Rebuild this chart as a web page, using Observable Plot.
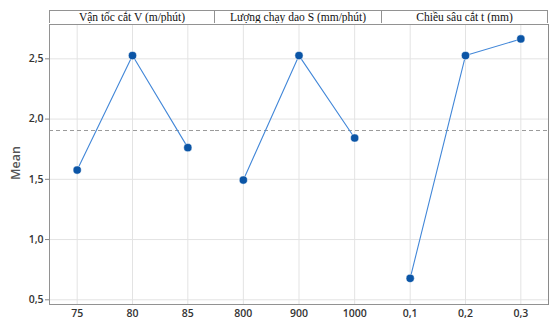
<!DOCTYPE html>
<html><head><meta charset="utf-8">
<script src="https://cdn.jsdelivr.net/npm/d3@7"></script>
<script src="https://cdn.jsdelivr.net/npm/@observablehq/plot@0.6"></script>
<style>
body{margin:0;background:#fff;}
#wrap{position:relative;width:549px;height:320px;padding-top:10px;box-sizing:border-box;display:flex;}
.col{display:flex;flex-direction:column;}
.strip{height:13px;box-sizing:border-box;border:1px solid #929292;border-bottom:none;background:#fff;font-family:"Liberation Serif",serif;font-size:11.5px;line-height:12px;text-align:center;color:#111;white-space:nowrap;overflow:hidden;}
#ylab{position:absolute;left:15px;top:163px;transform:translate(-50%,-50%) rotate(-90deg);font-family:"Open Sans",sans-serif;font-weight:600;font-size:12.5px;color:#555;}
svg{display:block;}
</style></head>
<body>
<div id="wrap"><div id="ylab">Mean</div></div>
<script>
const titles = ["Vận tốc cắt V (m/phút)", "Lượng chạy dao S (mm/phút)", "Chiều sâu cắt t (mm)"];
const vLevels = [75, 80, 85];
const vMeans = [1.577, 2.527, 1.763];
const sLevels = [800, 900, 1000];
const sMeans = [1.494, 2.527, 1.843];
const tLevels = [0.1, 0.2, 0.3];
const tMeans = [0.678, 2.527, 2.665];
const refMean = 1.905;
const yTicks = [0.5, 1.0, 1.5, 2.0, 2.5];
const yDomain = [0.461, 2.785];

const comma = d => d3.format(".1f")(d).replace(".", ",");
const panels = [
  {title: titles[0], levels: vLevels, means: vMeans, fmt: d => String(d)},
  {title: titles[1], levels: sLevels, means: sMeans, fmt: d => String(d)},
  {title: titles[2], levels: tLevels, means: tMeans, fmt: comma}
];
const wrap = document.getElementById("wrap");
const widths = [215, 167, 167];
panels.forEach((p, i) => {
  const step = p.levels[1] - p.levels[0];
  const data = p.levels.map((l, k) => ({level: l, mean: p.means[k]}));
  const ml = i === 0 ? 49 : 0;
  const mr = i === 2 ? 1 : 0;
  const col = document.createElement("div");
  col.className = "col";
  col.style.width = widths[i] + "px";
  const strip = document.createElement("div");
  strip.className = "strip";
  strip.style.marginLeft = ml + "px";
  strip.style.marginRight = mr + "px";
  if (i > 0) strip.style.borderLeft = "none";
  strip.textContent = p.title;
  col.appendChild(strip);
  const marks = [
    Plot.gridX(p.levels, {stroke: "#e3e3e3", strokeOpacity: 1}),
    Plot.gridY(yTicks, {stroke: "#e3e3e3", strokeOpacity: 1}),
    Plot.ruleY([refMean], {stroke: "#9a9a9a", strokeDasharray: "4,3"}),
    Plot.line(data, {x: "level", y: "mean", stroke: "#4287d8", strokeWidth: 1.1}),
    Plot.dot(data, {x: "level", y: "mean", r: 4.1, fill: "#0b55a6", stroke: "#fff", strokeWidth: 0.5}),
    Plot.axisX(p.levels, {label: null, tickSize: 0, tickPadding: 5, tickFormat: p.fmt, fontSize: 10.5, fontWeight: 600, fill: "#333", fontFamily: "Open Sans"}),
    Plot.frame({anchor: "top", stroke: "#929292"}),
    Plot.frame({anchor: "bottom", stroke: "#929292"}),
    Plot.frame({anchor: "right", stroke: "#8a8a8a"})
  ];
  if (i === 0) {
    marks.push(Plot.axisY(yTicks, {label: null, tickSize: 4, tickPadding: 2, tickFormat: comma, fontSize: 10.5, fontWeight: 600, fill: "#333", stroke: "#888", fontFamily: "Open Sans"}));
    marks.push(Plot.frame({anchor: "left", stroke: "#929292"}));
  }
  const chart = Plot.plot({
    width: widths[i],
    height: 297,
    marginTop: 1,
    marginBottom: 16,
    marginLeft: ml,
    marginRight: mr,
    style: {fontFamily: "Open Sans", background: "#fff", overflow: "visible"},
    x: {domain: [p.levels[0] - step / 2, p.levels[2] + step / 2], axis: null},
    y: {domain: yDomain, axis: null},
    marks
  });
  col.appendChild(chart);
  wrap.appendChild(col);
});
</script>
</body></html>
